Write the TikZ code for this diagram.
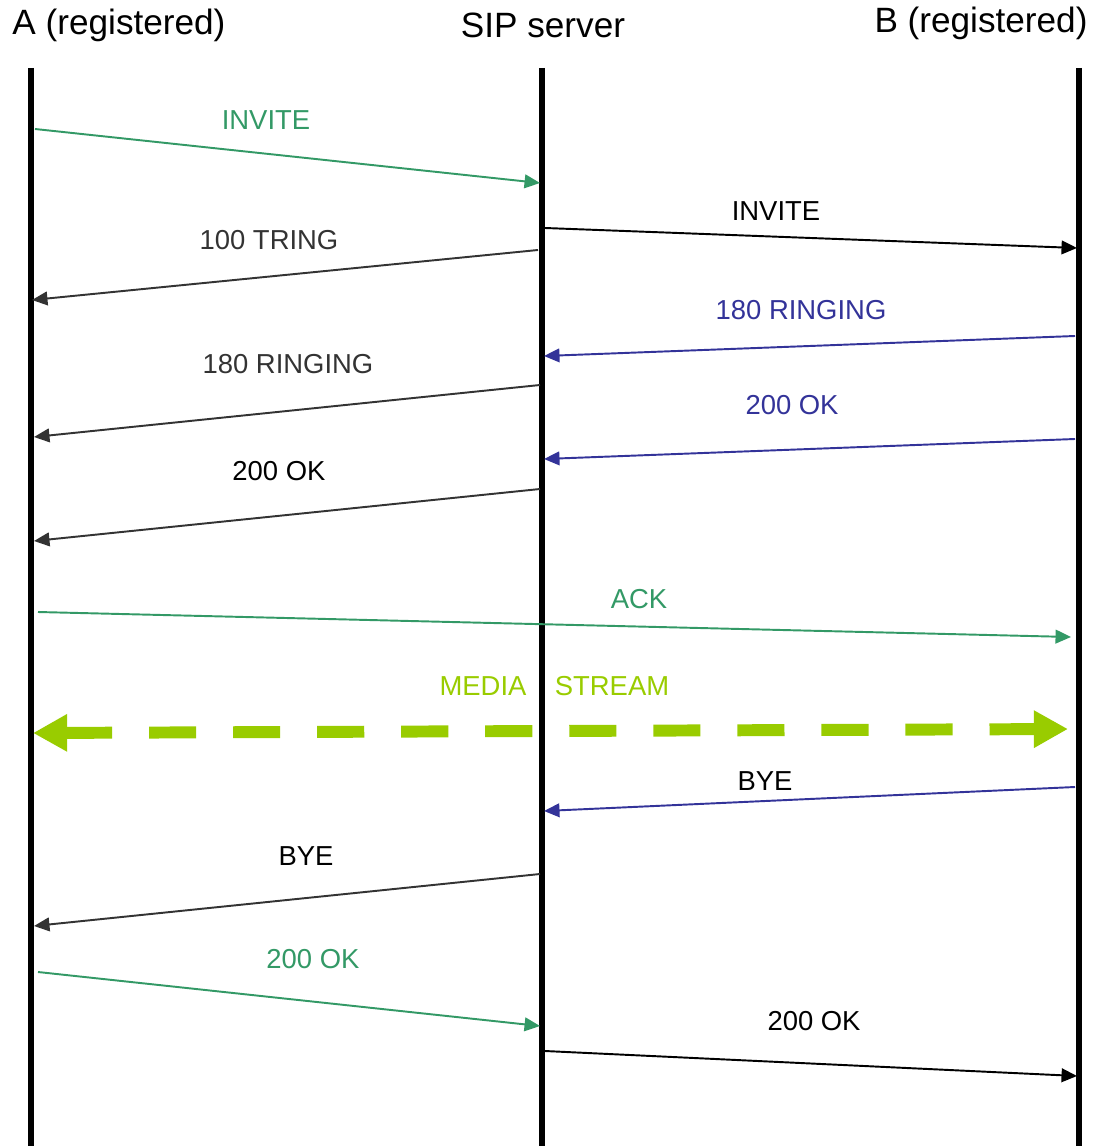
\documentclass[tikz,border=0pt]{standalone}
\usepackage{fontspec}
\setmainfont{Liberation Sans}
\usetikzlibrary{arrows.meta}

\definecolor{msggreen}{HTML}{339966}
\definecolor{msgblue}{HTML}{333399}
\definecolor{msggrey}{HTML}{333333}
\definecolor{media}{HTML}{99CC00}

\begin{document}
\begin{tikzpicture}[x=0.01cm,y=-0.01cm,
    lifeline/.style={line width=1.45pt},
    msg/.style={line width=0.55pt,-{Triangle[length=4.4pt,width=3.9pt]}},
    head/.style={font=\fontsize{10}{12}\selectfont,inner sep=0pt},
    lbl/.style={font=\fontsize{7.8}{9}\selectfont,inner sep=0pt}]

    \useasboundingbox (0,0) rectangle (1106,1146);

    % Participants
    \node[head] (A) at (119,25) {A (registered)};
    \node[head] (S) at (543,25) {SIP server};
    \node[head] (B) at (981,23) {B (registered)};

    % Lifelines
    \foreach \n/\x in {a/31,s/542,b/1079} {
        \coordinate (\n top) at (\x,68);
        \coordinate (\n bot) at (\x,1146);
        \draw[lifeline] (\n top) -- (\n bot);
    }

    % Messages: start and end points on the lifelines
    \foreach \i/\xa/\ya/\xb/\yb/\c in {
        1/35/129/540/183/msggreen,
        2/538/250/32/300/msggrey,
        3/545/228/1077/248/black,
        4/1075/336/544/356/msgblue,
        5/540/385/34/437/msggrey,
        6/1075/439/544/459/msgblue,
        7/540/489/34/541/msggrey,
        8/38/612/1071/637/msggreen,
        9/1075/787/544/811/msgblue,
        10/540/874/34/926/msggrey,
        11/38/972/540/1026/msggreen,
        12/545/1051/1077/1076/black} {
        \coordinate (m\i s) at (\xa,\ya);
        \coordinate (m\i e) at (\xb,\yb);
        \draw[msg,\c] (m\i s) -- (m\i e);
    }

    % Message labels
    \foreach \i/\x/\y/\c/\t in {
        1/266/120/msggreen/INVITE,
        2/269/240/msggrey/100 TRING,
        3/776/211/black/INVITE,
        4/801/310/msgblue/180 RINGING,
        5/288/364/msggrey/180 RINGING,
        6/792/405/msgblue/200 OK,
        7/279/471/black/200 OK,
        8/639/599/msggreen/ACK,
        9/765/781/black/BYE,
        10/306/856/black/BYE,
        11/313/959/msggreen/200 OK,
        12/814/1021/black/200 OK} {
        \node[lbl,text=\c] (l\i) at (\x,\y) {\t};
    }

    % Media stream between A and B
    \node[lbl,text=media] (media) at (483,686) {MEDIA};
    \node[lbl,text=media] (stream) at (612,686) {STREAM};
    \coordinate (ms a) at (33,733);
    \coordinate (ms b) at (1068,729);
    \draw[media,line width=3.4pt,dash pattern=on 13.4pt off 10.5pt,
        {Triangle[length=9.7pt,width=10pt]}-{Triangle[length=9.7pt,width=10pt]}]
        (ms a) -- (ms b);

\end{tikzpicture}
\end{document}
